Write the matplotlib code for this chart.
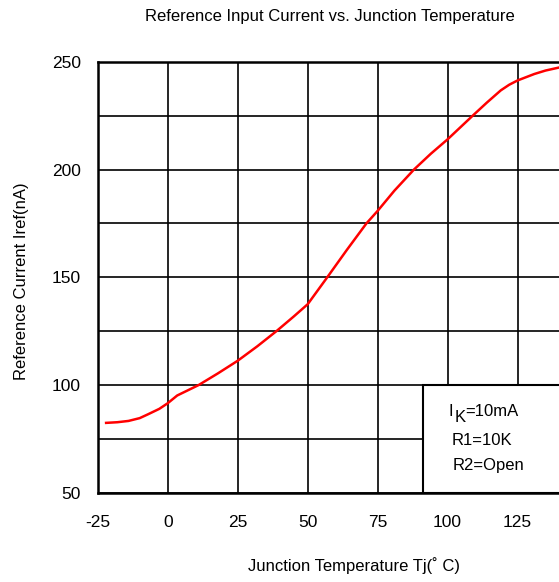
import numpy as np
import matplotlib.pyplot as plt
from matplotlib.patches import Rectangle

plt.rcParams["font.family"] = ["Liberation Sans", "DejaVu Sans"]
plt.rcParams["font.size"] = 12
plt.rcParams["axes.unicode_minus"] = False

# data
temp = [-22, -18, -14, -10, -7, -3, 0, 3.4, 11, 18, 25, 32, 39, 45, 50, 57, 64, 71, 75,
        81, 88, 94, 100, 109, 114, 119, 122, 125, 131, 135, 139.5]
iref = [82.5, 82.8, 83.4, 84.7, 86.5, 89.0, 91.6, 95.2, 100, 105.5, 111.3, 118.0, 125.2,
        131.8, 137.5, 150, 162.7, 175, 180.8, 190.2, 200, 207.3, 214, 225, 231, 236.7,
        239.3, 241.3, 244.3, 245.9, 247.2]

x_ticks = [-25, 0, 25, 50, 75, 100, 125]
y_ticks = [50, 100, 150, 200, 250]
y_grid = [75, 125, 175, 225]
notes = ["R1=10K", "R2=Open"]

fig = plt.figure(figsize=(5.59, 5.82), dpi=100)
ax = fig.add_axes([0.1748, 0.153, 0.8252, 0.741])

ax.plot(temp, iref, color="#ff0000", lw=1.8, zorder=3)

ax.set_xlim(-25, 139.8)
ax.set_ylim(50, 250)
ax.set_xticks(x_ticks)
ax.set_yticks(y_ticks)
ax.set_yticks(y_grid, minor=True)
ax.grid(True, which="both", color="black", lw=1.2)
ax.tick_params(which="both", length=0, labelsize=12.5)
ax.tick_params(axis="y", pad=12)
ax.tick_params(axis="x", pad=16)
for s in ["left", "bottom", "top"]:
    ax.spines[s].set_linewidth(1.8)
ax.spines["right"].set_visible(False)

# condition box
ax.add_patch(Rectangle((91.3, 50), 60, 50, facecolor="white", edgecolor="black",
                       lw=1.5, zorder=4))
ax.text(100.25, 85.7, "I", fontsize=12, va="baseline", zorder=5)
ax.text(102.6, 82.8, "K", fontsize=12, va="baseline", zorder=5)
ax.text(106.2, 85.7, "=10mA", fontsize=12, va="baseline", zorder=5)
ax.text(101.3, 72.1, notes[0], fontsize=12, va="baseline", zorder=5)
ax.text(101.9, 60.5, notes[1], fontsize=12, va="baseline", zorder=5)

fig.text(0.59, 0.972, "Reference Input Current vs. Junction Temperature",
         ha="center", va="center", fontsize=12)
fig.text(0.633, 0.029, "Junction Temperature Tj(˚ C)", ha="center", va="center", fontsize=12)
fig.text(0.039, 0.517, "Reference Current Iref(nA)", ha="center", va="center",
         rotation=90, fontsize=12)

plt.savefig("out.png", dpi=100)
